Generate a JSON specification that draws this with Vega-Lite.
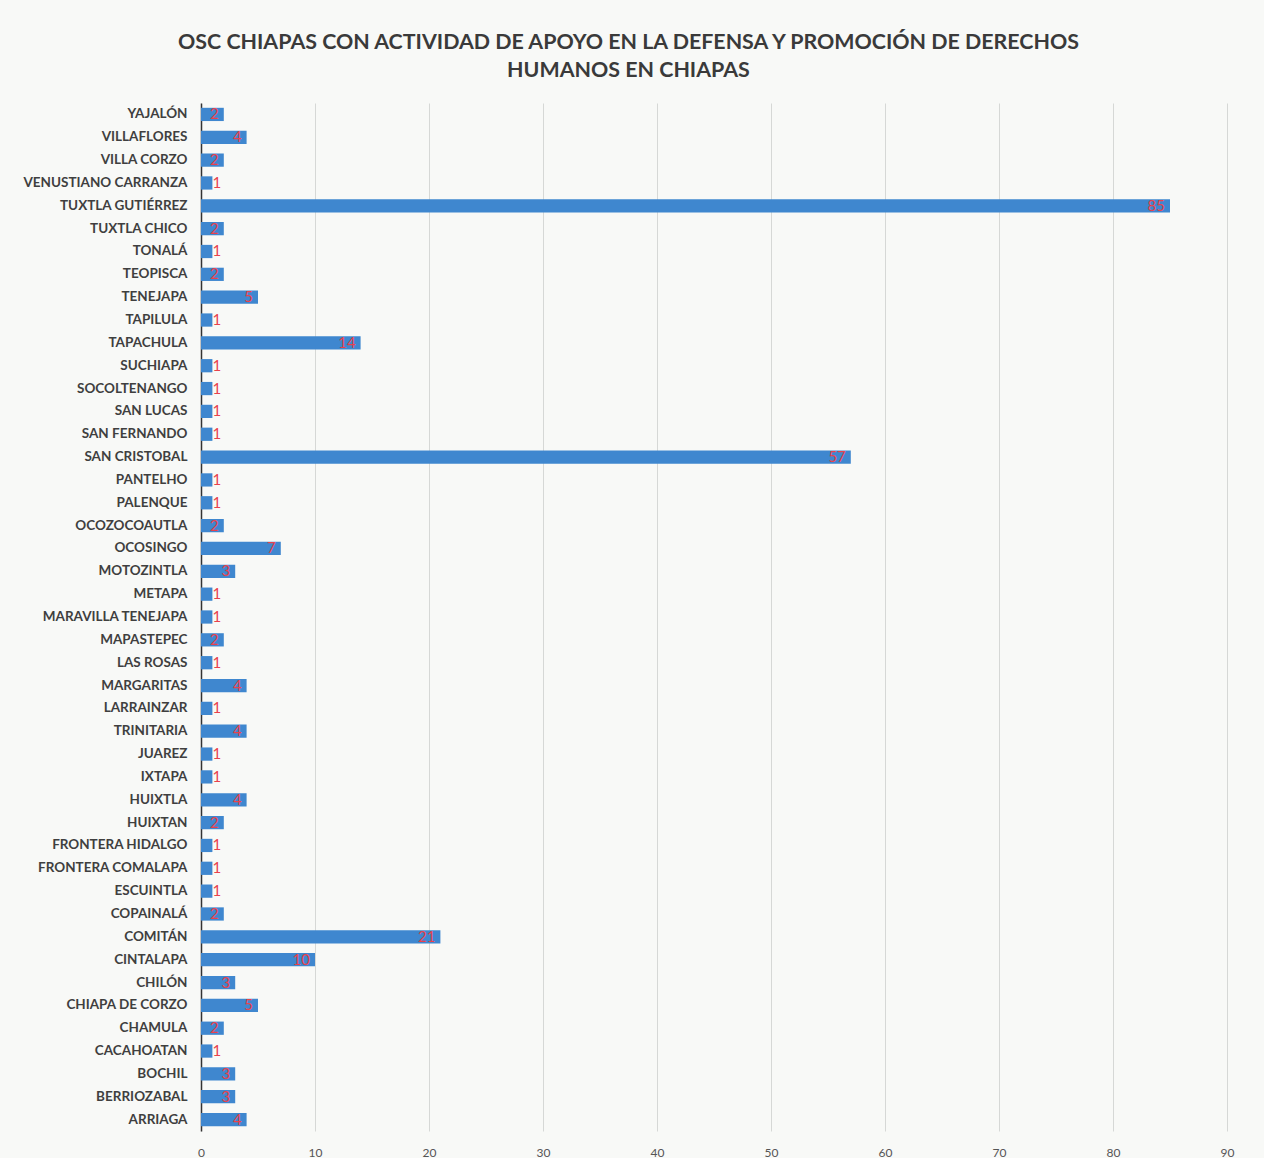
{
  "$schema": "https://vega.github.io/schema/vega-lite/v6.json",
  "width": 1026,
  "height": 1028,
  "background": "#f8f9f7",
  "padding": {"left": 22, "top": 31, "right": 30, "bottom": 0},
  "title": {
    "text": ["OSC CHIAPAS CON ACTIVIDAD DE APOYO EN LA DEFENSA Y PROMOCIÓN DE DERECHOS", "HUMANOS  EN CHIAPAS"],
    "font": "Lato",
    "fontSize": 21.4,
    "fontWeight": "bold",
    "color": "#3a3a3a",
    "lineHeight": 28,
    "anchor": "middle",
    "frame": "bounds",
    "offset": 22
  },
  "config": {
    "view": {"stroke": null},
    "font": "Lato"
  },
  "data": {
    "values": [
      {"municipio": "YAJALÓN", "osc": 2},
      {"municipio": "VILLAFLORES", "osc": 4},
      {"municipio": "VILLA CORZO", "osc": 2},
      {"municipio": "VENUSTIANO CARRANZA", "osc": 1},
      {"municipio": "TUXTLA GUTIÉRREZ", "osc": 85},
      {"municipio": "TUXTLA CHICO", "osc": 2},
      {"municipio": "TONALÁ", "osc": 1},
      {"municipio": "TEOPISCA", "osc": 2},
      {"municipio": "TENEJAPA", "osc": 5},
      {"municipio": "TAPILULA", "osc": 1},
      {"municipio": "TAPACHULA", "osc": 14},
      {"municipio": "SUCHIAPA", "osc": 1},
      {"municipio": "SOCOLTENANGO", "osc": 1},
      {"municipio": "SAN LUCAS", "osc": 1},
      {"municipio": "SAN FERNANDO", "osc": 1},
      {"municipio": "SAN CRISTOBAL", "osc": 57},
      {"municipio": "PANTELHO", "osc": 1},
      {"municipio": "PALENQUE", "osc": 1},
      {"municipio": "OCOZOCOAUTLA", "osc": 2},
      {"municipio": "OCOSINGO", "osc": 7},
      {"municipio": "MOTOZINTLA", "osc": 3},
      {"municipio": "METAPA", "osc": 1},
      {"municipio": "MARAVILLA TENEJAPA", "osc": 1},
      {"municipio": "MAPASTEPEC", "osc": 2},
      {"municipio": "LAS ROSAS", "osc": 1},
      {"municipio": "MARGARITAS", "osc": 4},
      {"municipio": "LARRAINZAR", "osc": 1},
      {"municipio": "TRINITARIA", "osc": 4},
      {"municipio": "JUAREZ", "osc": 1},
      {"municipio": "IXTAPA", "osc": 1},
      {"municipio": "HUIXTLA", "osc": 4},
      {"municipio": "HUIXTAN", "osc": 2},
      {"municipio": "FRONTERA HIDALGO", "osc": 1},
      {"municipio": "FRONTERA COMALAPA", "osc": 1},
      {"municipio": "ESCUINTLA", "osc": 1},
      {"municipio": "COPAINALÁ", "osc": 2},
      {"municipio": "COMITÁN", "osc": 21},
      {"municipio": "CINTALAPA", "osc": 10},
      {"municipio": "CHILÓN", "osc": 3},
      {"municipio": "CHIAPA DE CORZO", "osc": 5},
      {"municipio": "CHAMULA", "osc": 2},
      {"municipio": "CACAHOATAN", "osc": 1},
      {"municipio": "BOCHIL", "osc": 3},
      {"municipio": "BERRIOZABAL", "osc": 3},
      {"municipio": "ARRIAGA", "osc": 4}
    ]
  },
  "encoding": {
    "y": {
      "field": "municipio",
      "type": "nominal",
      "sort": null,
      "scale": {"paddingInner": 0.42, "paddingOuter": 0.21},
      "axis": {
        "title": null,
        "labelFont": "Lato",
        "labelFontSize": 13.5,
        "labelFontWeight": "bold",
        "labelColor": "#3f3f3f",
        "labelPadding": 14,
        "ticks": false,
        "domainColor": "#333333",
        "domainWidth": 1.5,
        "grid": false
      }
    },
    "x": {
      "field": "osc",
      "type": "quantitative",
      "scale": {"domain": [0, 90], "nice": false},
      "axis": {
        "title": null,
        "values": [0, 10, 20, 30, 40, 50, 60, 70, 80, 90],
        "labelOverlap": false,
        "labelFlush": false,
        "labelFontSize": 12,
        "labelColor": "#555555",
        "labelPadding": 16,
        "domain": false,
        "ticks": false,
        "grid": true,
        "gridColor": "#d6d8d6",
        "gridWidth": 1
      }
    }
  },
  "layer": [
    {
      "mark": {"type": "bar", "color": "#3f87cf"}
    },
    {
      "transform": [{"filter": "datum.osc > 1"}],
      "mark": {"type": "text", "align": "right", "baseline": "middle", "dx": -5, "color": "#e8424c", "fontSize": 15, "font": "Lato"},
      "encoding": {"text": {"field": "osc", "type": "quantitative"}}
    },
    {
      "transform": [{"filter": "datum.osc <= 1"}],
      "mark": {"type": "text", "align": "left", "baseline": "middle", "dx": 0, "color": "#e8424c", "fontSize": 15, "font": "Lato"},
      "encoding": {"text": {"field": "osc", "type": "quantitative"}}
    }
  ]
}
